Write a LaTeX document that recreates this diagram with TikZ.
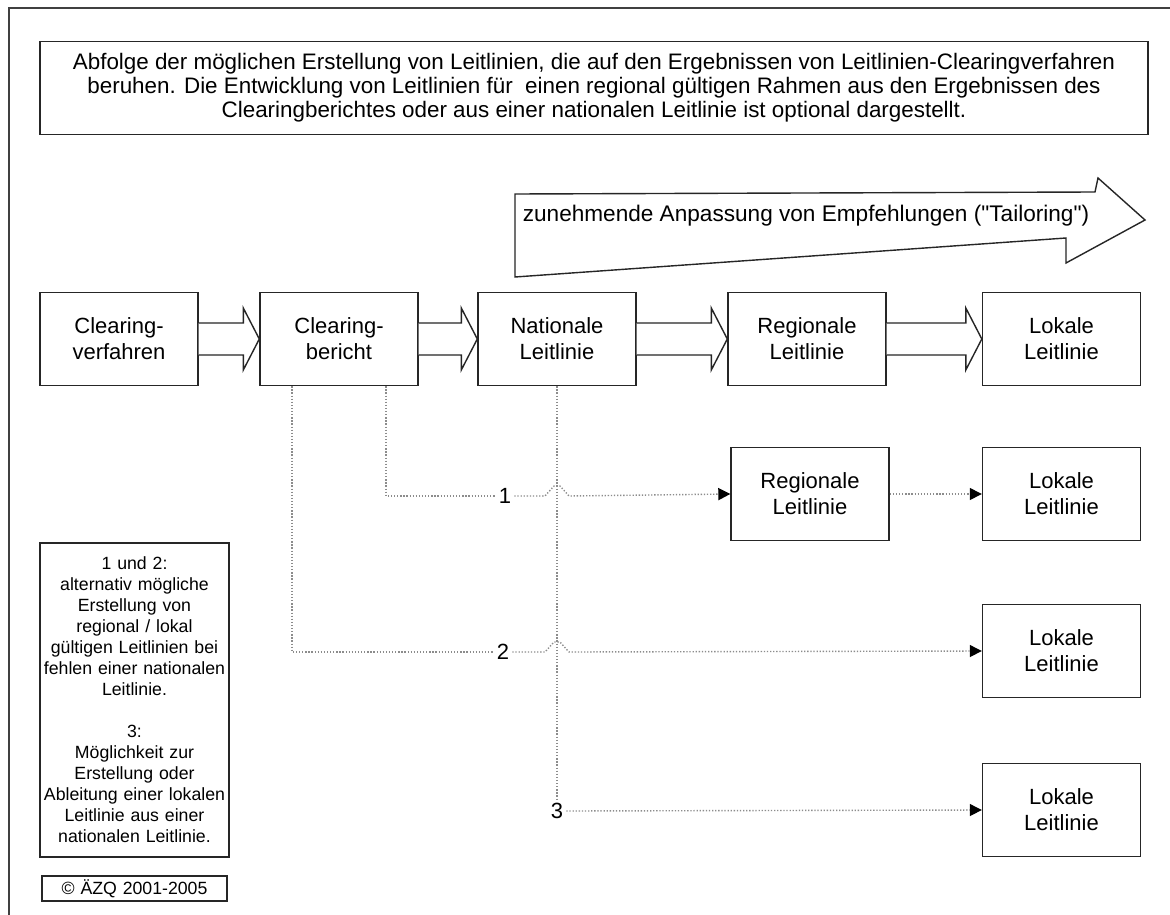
\documentclass[tikz,border=0pt]{standalone}
\usepackage{fontspec}
\setmainfont{Liberation Sans}
\newfontfamily\rawsans{Liberation Sans}[Ligatures=TeXOff]
\usetikzlibrary{arrows.meta,calc}
\begin{document}
\begin{tikzpicture}[x=1pt,y=-1pt,
  box/.style={draw=black!85,line width=1.4pt,minimum width=158pt,minimum height=93pt,align=center,inner sep=0pt,
    font=\fontsize{22}{26}\selectfont},
  hollow/.style={draw=black!85,line width=1.4pt,fill=white,line join=miter},
  dots/.style={draw=black!45,line width=1.4pt,dash pattern=on 1.3pt off 1.8pt},
  tip/.style={-{Triangle[length=12pt,width=12pt,black]}},
  numlab/.style={inner sep=3pt,font=\fontsize{22}{24}\selectfont},
  legend/.style={draw=black!85,line width=1.2pt,text width=185pt,align=center,inner sep=2pt,
    font=\fontsize{17.7}{21}\selectfont}]
\useasboundingbox (0,0) rectangle (1170,915);
\fill[white] (0,0) rectangle (1170,915);
% outer frame
\draw[black!75,line width=2.2pt] (9,915) -- (9,8) -- (1170,8);
% title box
\node[draw=black!85,line width=1.4pt,minimum width=1108pt,minimum height=93pt,align=center,inner sep=0pt,
  font=\fontsize{22.4}{24}\selectfont] (title) at (594,88)
  {Abfolge der möglichen Erstellung von Leitlinien, die auf den Ergebnissen von Leitlinien-Clearingverfahren\\
   beruhen. Die Entwicklung von Leitlinien für\ \ einen regional gültigen Rahmen aus den Ergebnissen des\\
   Clearingberichtes oder aus einer nationalen Leitlinie ist optional dargestellt.};
% big tailoring arrow
\draw[hollow] (515,194) -- (1095,192) -- (1098,178) -- (1145,220) -- (1066,263) -- (1066,238) -- (515,277) -- cycle;
\node[font=\rawsans\fontsize{22.6}{24}\selectfont,inner sep=0pt] (tail) at (806,216) {zunehmende Anpassung von Empfehlungen ("Tailoring")};
% main row
\node[box] (cv) at (119,339) {Clearing-\\verfahren};
\node[box] (cb) at (339,339) {Clearing-\\bericht};
\node[box] (nl) at (557,339) {Nationale\\Leitlinie};
\node[box] (rl) at (807,339) {Regionale\\Leitlinie};
\node[box] (ll) at (1061.5,339) {Lokale\\Leitlinie};
% other rows
\node[box] (rl2) at (810,494) {Regionale\\Leitlinie};
\node[box] (ll2) at (1061.5,494) {Lokale\\Leitlinie};
\node[box] (ll3) at (1061.5,651) {Lokale\\Leitlinie};
\node[box] (ll4) at (1061.5,810) {Lokale\\Leitlinie};
% hollow block arrows
\newcommand{\blockarrow}[2]{%
  \draw[hollow] ([yshift=16pt]#1.east) -- ([xshift=-16pt,yshift=16pt]#2.west) -- ([xshift=-16pt,yshift=31pt]#2.west)
    -- (#2.west) -- ([xshift=-16pt,yshift=-31pt]#2.west) -- ([xshift=-16pt,yshift=-16pt]#2.west) -- ([yshift=-16pt]#1.east);}
\blockarrow{cv}{cb}
\blockarrow{cb}{nl}
\blockarrow{nl}{rl}
\blockarrow{rl}{ll}
% number labels
\node[numlab] (n1) at (505,496) {1};
\node[numlab] (n2) at (503,652) {2};
\node[numlab] (n3) at (557,811) {3};
\coordinate (c1) at ([xshift=47pt]cb.south);
\coordinate (c2) at ([xshift=-47pt]cb.south);
% dotted connectors
\draw[dots] (nl.south) -- (n3.north);
\draw[dots,tip] (n3.east) -- (ll4.west);
\draw[dots] (c1) |- (n1.west);
\draw[dots,tip] (n1.east) -- (545,496) -- ++(9,-10) -- ++(6,0) -- ++(9,10) -- (rl2.west);
\draw[dots] (c2) |- (n2.west);
\draw[dots,tip] (n2.east) -- (545,652) -- ++(9,-10) -- ++(6,0) -- ++(9,10) -- (ll3.west);
\draw[dots,tip] (rl2.east) -- (ll2.west);
% legend
\node[legend,minimum height=314pt] (leg) at (134.5,700)
  {1 und 2:\\alternativ mögliche\\Erstellung von\\regional / lokal\\gültigen Leitlinien bei\\fehlen einer nationalen\\Leitlinie.\\\strut\\3:\\Möglichkeit zur\\Erstellung oder\\Ableitung einer lokalen\\Leitlinie aus einer\\nationalen Leitlinie.};
\node[legend,minimum height=25pt,inner sep=0pt] (copy) at (134.5,888.5) {© ÄZQ 2001-2005};
\end{tikzpicture}
\end{document}
